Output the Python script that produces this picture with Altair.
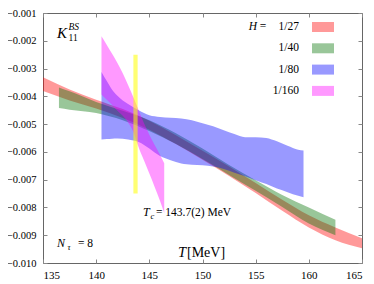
import altair as alt
import pandas as pd

FONT = "'Liberation Serif', 'Times New Roman', 'DejaVu Serif', serif"

# ---- data ----
x_ticks = [135, 140, 145, 150, 155, 160, 165]
y_ticks = [-0.010, -0.009, -0.008, -0.007, -0.006, -0.005, -0.004, -0.003, -0.002, -0.001]

labels = ["1/27", "1/40", "1/80", "1/160"]
colors = ["#ff0000", "#007000", "#0000ff", "#ff00ff"]

T27 = [135, 137.5, 140, 142.5, 145, 147.5, 150, 152.5, 155, 157.5, 160, 162.5, 165]
hi27 = [-0.00331, -0.00375, -0.00412, -0.00446, -0.00488, -0.00540, -0.00596, -0.00653, -0.00712, -0.00772, -0.00828, -0.00872, -0.00911]
lo27 = [-0.00381, -0.00415, -0.00444, -0.00478, -0.00520, -0.00572, -0.00628, -0.00687, -0.00748, -0.00812, -0.00872, -0.00918, -0.00947]

T40 = [136.5, 137.5, 140, 142.5, 145, 147.5, 150, 152.5, 155, 157.5, 160, 162.5]
hi40 = [-0.00368, -0.00382, -0.00420, -0.00452, -0.00486, -0.00533, -0.00588, -0.00647, -0.00702, -0.00755, -0.00800, -0.00844]
lo40 = [-0.00442, -0.00448, -0.00460, -0.00486, -0.00525, -0.00572, -0.00626, -0.00683, -0.00740, -0.00798, -0.00858, -0.00900]

T80 = [140.5, 141, 141.5, 142, 143, 144, 145, 146, 147, 148, 149, 150, 151, 152, 153, 154, 155, 156, 157, 158, 159, 159.5]
hi80 = [-0.00312, -0.00345, -0.00376, -0.00398, -0.00428, -0.00450, -0.00468, -0.00474, -0.00477, -0.00480, -0.00486, -0.00497,
        -0.00508, -0.00522, -0.00536, -0.00547, -0.00547, -0.00550, -0.00562, -0.00578, -0.00592, -0.00595]
lo80 = [-0.00555, -0.00554, -0.00553, -0.00552, -0.00555, -0.00564, -0.00588, -0.00615, -0.00630, -0.00642, -0.00646, -0.00648,
        -0.00653, -0.00662, -0.00675, -0.00688, -0.00702, -0.00716, -0.00732, -0.00745, -0.00758, -0.00763]

T160 = [140.5, 141, 141.5, 142, 142.5, 143, 143.5, 144, 144.5, 145, 145.5, 146, 146.4]
hi160 = [-0.00184, -0.00215, -0.00247, -0.00280, -0.00317, -0.00359, -0.00403, -0.00450, -0.00497, -0.00538, -0.00575, -0.00610, -0.00641]
lo160 = [-0.00393, -0.00412, -0.00431, -0.00452, -0.00470, -0.00494, -0.00528, -0.00584, -0.00631, -0.00678, -0.00726, -0.00776, -0.00820]

Tc_x = [143.5, 143.9]
Tc_y = [-0.0075, -0.0025]

bands = [(T27, lo27, hi27), (T40, lo40, hi40), (T80, lo80, hi80), (T160, lo160, hi160)]

W, H = 319, 250

xs = alt.Scale(domain=[135, 165], nice=False, zero=False)
ys = alt.Scale(domain=[-0.010, -0.001], nice=False, zero=False)

tick_col = "#888888"
x_main = alt.Axis(orient="bottom", values=x_ticks, offset=-4, tickSize=4, labelPadding=6, domain=False,
                  grid=False, title=None, labelFont=FONT, labelFontSize=11, labelColor="black",
                  tickColor=tick_col, format="d")
y_main = alt.Axis(orient="left", values=y_ticks, offset=-4, tickSize=4, labelPadding=7, domain=False,
                  grid=False, title=None, labelFont=FONT, labelFontSize=10.5, labelColor="black",
                  tickColor=tick_col, format=".3f")
x_mirror = alt.Axis(orient="top", values=x_ticks, offset=-4, tickSize=4, labels=False, domain=False,
                    grid=False, title=None, tickColor=tick_col)
y_mirror = alt.Axis(orient="right", values=y_ticks, offset=-4, tickSize=4, labels=False, domain=False,
                    grid=False, title=None, tickColor=tick_col)

layers = []
for i, ((T, lo, hi), col) in enumerate(zip(bands, colors)):
    df = pd.DataFrame({"T": T, "lo": lo, "hi": hi})
    if i == 0:
        xa, ya = x_main, y_main
    elif i == 1:
        xa, ya = x_mirror, y_mirror
    else:
        xa, ya = None, None
    layers.append(
        alt.Chart(df).mark_area(color=col, fillOpacity=0.4, interpolate="monotone").encode(
            x=alt.X("T:Q", scale=xs, axis=xa),
            y=alt.Y("hi:Q", scale=ys, axis=ya),
            y2="lo:Q",
        )
    )

tc_df = pd.DataFrame({"x1": [Tc_x[0]], "x2": [Tc_x[1]], "y1": [Tc_y[0]], "y2": [Tc_y[1]]})
layers.append(
    alt.Chart(tc_df).mark_rect(color="#ffff00", opacity=0.55).encode(
        x=alt.X("x1:Q", scale=xs, axis=None), x2="x2:Q",
        y=alt.Y("y1:Q", scale=ys, axis=None), y2="y2:Q",
    )
)

one = pd.DataFrame({"a": [0]})


def txt(s, x, y, size, italic=False, align="left"):
    kw = dict(text=s, font=FONT, fontSize=size, align=align, baseline="alphabetic", color="black")
    if italic:
        kw["fontStyle"] = "italic"
    return alt.Chart(one).mark_text(**kw).encode(x=alt.value(x), y=alt.value(y))


# legend (manual, top right)
row0, step = 14, 21.3
for i, (lab, col) in enumerate(zip(labels, colors)):
    cy = row0 + step * i
    layers.append(
        alt.Chart(one).mark_rect(color=col, opacity=0.4).encode(
            x=alt.value(269), x2=alt.value(291), y=alt.value(cy - 5), y2=alt.value(cy + 5)
        )
    )
    layers.append(txt(lab, 256, cy + 3, 11.5, align="right"))
layers.append(txt("H", 214, row0 + 3, 11.5, italic=True, align="right"))
layers.append(txt("=", 220, row0 + 3, 11.5, align="center"))

# annotations
layers += [
    txt("K", 14, 24.5, 15, italic=True),
    txt("BS", 25.5, 16.5, 9.5, italic=True),
    txt("11", 25.5, 27.5, 9.5),
    txt("T", 100, 203, 12, italic=True),
    txt("c", 107.5, 205.5, 8.5, italic=True),
    txt("= 143.7(2) MeV", 113, 203, 11.5),
    txt("N", 14, 234, 12, italic=True),
    txt("τ", 24.5, 236.5, 8.5, italic=True),
    txt("= 8", 35, 234, 11.5),
    txt("T", 135, 244, 14.5, italic=True),
    txt("[MeV]", 144, 244, 14),
]

chart = (
    alt.layer(*layers)
    .resolve_axis(x="independent", y="independent")
    .properties(
        width=W, height=H,
        autosize=alt.AutoSizeParams(type="none"),
        padding={"left": 35, "top": 5, "right": 4, "bottom": 20},
        background="white",
    )
    .configure_view(stroke="#666666", strokeWidth=1)
)

chart.save("out.html", embed_options={"renderer": "svg", "actions": False})
